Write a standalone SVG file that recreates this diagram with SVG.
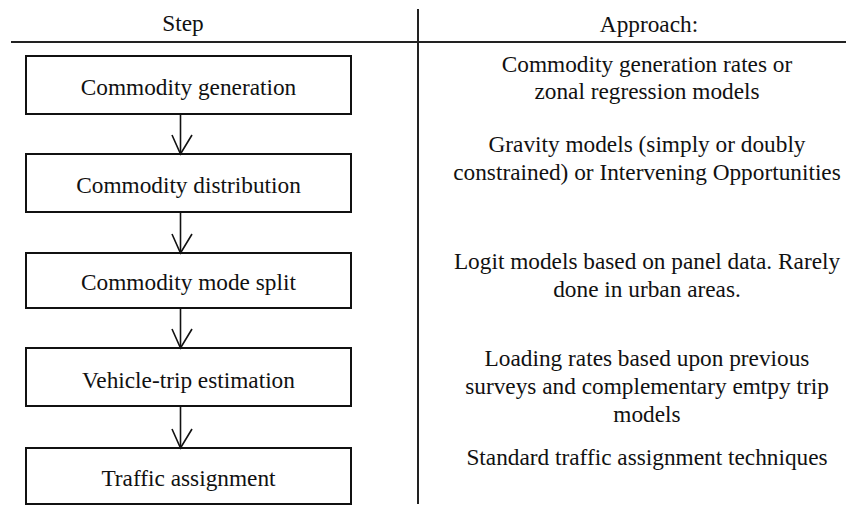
<svg xmlns="http://www.w3.org/2000/svg" width="846" height="508" viewBox="0 0 846 508">
<rect width="846" height="508" fill="#fff"/>
<g font-family="Liberation Serif" font-size="23.3" fill="#111" text-anchor="middle">
<g id="table" stroke="#222" stroke-width="2">
<line x1="11" y1="42" x2="846" y2="42"/>
<line x1="418" y1="9" x2="418" y2="504"/>
</g>
<text x="183" y="31" style="font-family:'Liberation Serif',serif !important">Step</text>
<text x="649" y="32" style="font-family:'Liberation Serif',serif !important">Approach:</text>
<g id="nodes">
<g stroke="#111" stroke-width="2" fill="#fff">
<rect x="26" y="56" width="325" height="58"/>
<rect x="26" y="154" width="325" height="58"/>
<rect x="26" y="253" width="325" height="55"/>
<rect x="26" y="348" width="325" height="58"/>
<rect x="26" y="448" width="325" height="56"/>
</g>
<g id="n1"><text x="188.5" y="95" style="font-family:'Liberation Serif',serif !important">Commodity generation</text></g>
<g id="n2"><text x="188.5" y="193" style="font-family:'Liberation Serif',serif !important">Commodity distribution</text></g>
<g id="n3"><text x="188.5" y="290" style="font-family:'Liberation Serif',serif !important">Commodity mode split</text></g>
<g id="n4"><text x="188.5" y="388" style="font-family:'Liberation Serif',serif !important">Vehicle-trip estimation</text></g>
<g id="n5"><text x="188.5" y="486" style="font-family:'Liberation Serif',serif !important">Traffic assignment</text></g>
</g>
<g id="connectors" stroke="#111" stroke-width="1.6" fill="none">
<line x1="180.5" y1="114" x2="180.5" y2="154"/><polyline points="172,135 180.5,154 192,135"/>
<line x1="180.5" y1="212" x2="180.5" y2="253"/><polyline points="172,234 180.5,253 192,234"/>
<line x1="180.5" y1="308" x2="180.5" y2="348"/><polyline points="172,329 180.5,348 192,329"/>
<line x1="180.5" y1="406" x2="180.5" y2="448"/><polyline points="172,429 180.5,448 192,429"/>
</g>
<g id="approaches">
<text x="647" y="72" style="font-family:'Liberation Serif',serif !important">Commodity generation rates or</text>
<text x="647" y="99" style="font-family:'Liberation Serif',serif !important">zonal regression models</text>
<text x="647" y="152" style="font-family:'Liberation Serif',serif !important">Gravity models (simply or doubly</text>
<text x="647" y="180" style="font-family:'Liberation Serif',serif !important">constrained) or Intervening Opportunities</text>
<text x="647" y="269" style="font-family:'Liberation Serif',serif !important">Logit models based on panel data. Rarely</text>
<text x="647" y="297" style="font-family:'Liberation Serif',serif !important">done in urban areas.</text>
<text x="647" y="366" style="font-family:'Liberation Serif',serif !important">Loading rates based upon previous</text>
<text x="647" y="394" style="font-family:'Liberation Serif',serif !important">surveys and complementary emtpy trip</text>
<text x="647" y="422" style="font-family:'Liberation Serif',serif !important">models</text>
<text x="647" y="465" style="font-family:'Liberation Serif',serif !important">Standard traffic assignment techniques</text>
</g>
</g>
</svg>
